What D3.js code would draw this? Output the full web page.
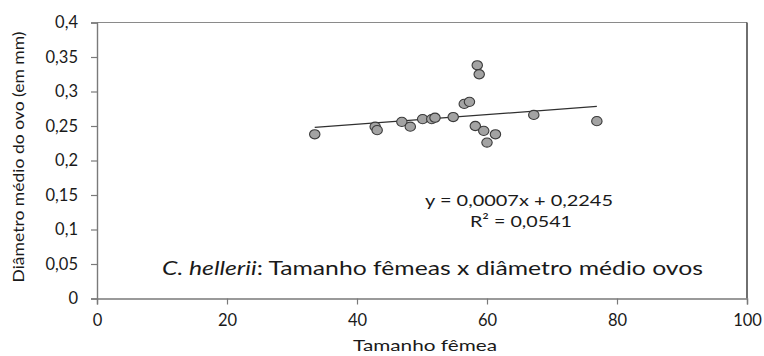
<!DOCTYPE html>
<html><head><meta charset="utf-8">
<script src="https://cdn.jsdelivr.net/npm/d3@7"></script>
<style>body{margin:0;background:#fff}svg{display:block}text{font-family:Lato,"Open Sans",sans-serif;fill:#1a1a1a}</style>
</head><body><svg id="c" width="764" height="356"></svg>
<script>
const xVals = [33.5, 42.8, 43.1, 46.9, 48.2, 50.1, 51.5, 52.0, 54.8, 56.5, 57.3, 58.5, 58.8, 58.2, 59.5, 61.3, 60.0, 67.2, 76.9];
const yVals = [0.238, 0.249, 0.244, 0.256, 0.249, 0.260, 0.260, 0.262, 0.263, 0.282, 0.285, 0.338, 0.325, 0.250, 0.243, 0.238, 0.226, 0.266, 0.257];
const xTicks = [0, 20, 40, 60, 80, 100];
const yTicks = [0, 0.05, 0.1, 0.15, 0.2, 0.25, 0.3, 0.35, 0.4];
const slope = 0.0007, intercept = 0.2245;
const eqText = "y = 0,0007x + 0,2245";
const r2Text = "R² = 0,0541";
const xTitle = "Tamanho fêmea";
const yTitle = "Diâmetro médio do ovo (em mm)";

const svg = d3.select("#c");
const L = 97, R = 747, T = 22.5, B = 298.5;
const x = d3.scaleLinear().domain([0, 100]).range([L, R]);
const y = d3.scaleLinear().domain([0, 0.4]).range([B, T]);
const fmt = d => String(d).replace(".", ",");

// plot border (top/right)
svg.append("line").attr("x1", L).attr("x2", R).attr("y1", T).attr("y2", T).attr("stroke", "#8a8a8a").attr("stroke-width", 1.2);
svg.append("line").attr("x1", R).attr("x2", R).attr("y1", T).attr("y2", B).attr("stroke", "#333").attr("stroke-width", 1.4);

const xa = svg.append("g").attr("transform", `translate(0,${B})`)
  .call(d3.axisBottom(x).tickValues(xTicks).tickSize(6).tickPadding(10).tickFormat(fmt));
const ya = svg.append("g").attr("transform", `translate(${L},0)`)
  .call(d3.axisLeft(y).tickValues(yTicks).tickSize(6).tickPadding(13).tickFormat(fmt));
[xa, ya].forEach(g => {
  g.select(".domain").attr("stroke", "#7a7a7a").attr("stroke-width", 1.4);
  g.selectAll(".tick line").attr("stroke", "#7a7a7a").attr("stroke-width", 1.2);
  g.selectAll(".tick text").style("font-size", "16.5px").style("font-family", "Lato").attr("fill", "#1a1a1a");
});

// trend line
const x0 = d3.min(xVals), x1 = d3.max(xVals);
svg.append("line")
  .attr("x1", x(x0)).attr("y1", y(slope * x0 + intercept))
  .attr("x2", x(x1)).attr("y2", y(slope * x1 + intercept))
  .attr("stroke", "#303030").attr("stroke-width", 1.2);

// points
svg.append("g").selectAll("ellipse").data(xVals.map((v, i) => [v, yVals[i]])).join("ellipse")
  .attr("cx", d => x(d[0])).attr("cy", d => y(d[1]))
  .attr("rx", 5.2).attr("ry", 4.6)
  .attr("fill", "#a3a3a3").attr("stroke", "#3a3a3a").attr("stroke-width", 1.1);

// equation
svg.append("text").attr("x", 519).attr("y", 206).attr("text-anchor", "middle")
  .attr("textLength", 188).attr("lengthAdjust", "spacingAndGlyphs")
  .style("font-size", "16px").text(eqText);
svg.append("text").attr("x", 521).attr("y", 227).attr("text-anchor", "middle")
  .attr("textLength", 102).attr("lengthAdjust", "spacingAndGlyphs")
  .style("font-size", "16px").text(r2Text);

// title inside plot
const t = svg.append("text").attr("x", 162).attr("y", 275)
  .attr("textLength", 541).attr("lengthAdjust", "spacingAndGlyphs")
  .style("font-size", "19px");
t.append("tspan").style("font-style", "italic").text("C. hellerii");
t.append("tspan").text(": Tamanho fêmeas x diâmetro médio ovos");

// axis titles
svg.append("text").attr("x", 425).attr("y", 351).attr("text-anchor", "middle")
  .attr("textLength", 144).attr("lengthAdjust", "spacingAndGlyphs")
  .style("font-size", "16px").text(xTitle);
svg.append("text").attr("transform", "translate(24,157) rotate(-90)").attr("text-anchor", "middle")
  .attr("textLength", 251).attr("lengthAdjust", "spacingAndGlyphs")
  .style("font-size", "16px").text(yTitle);
</script></body></html>
